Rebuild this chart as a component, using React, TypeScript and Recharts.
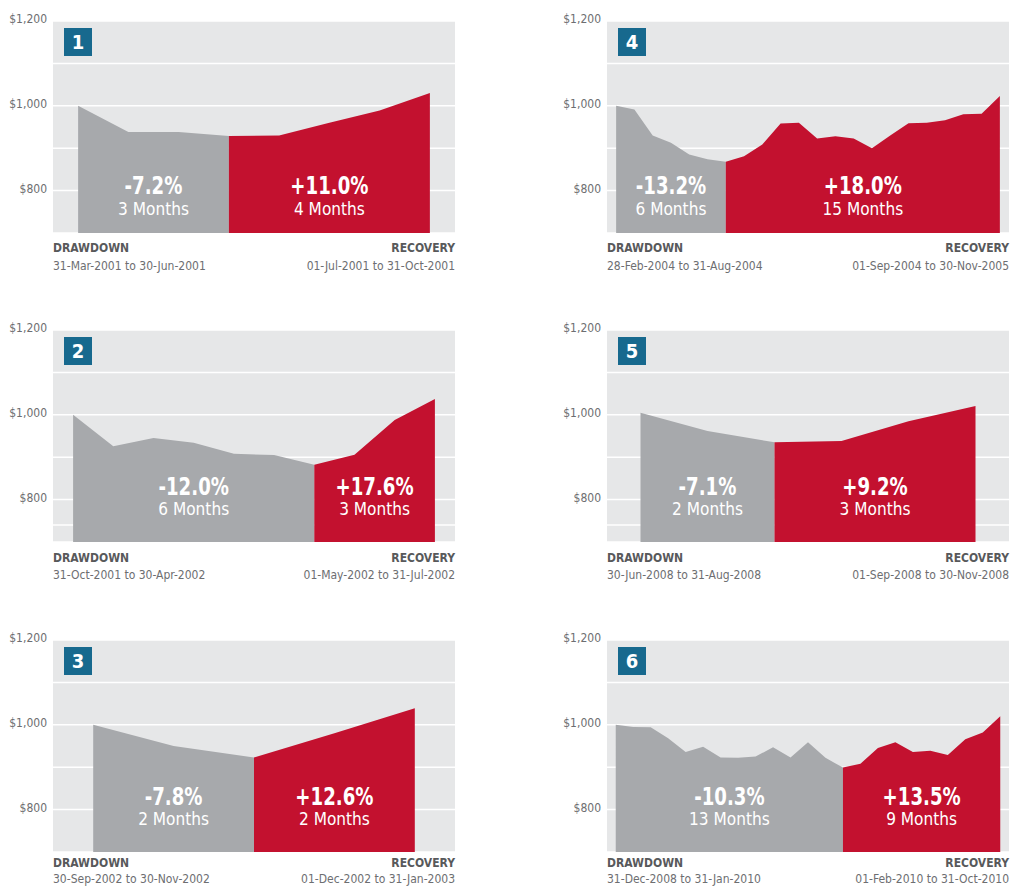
import React from "react";
import { AreaChart, Area, XAxis, YAxis, CartesianGrid, ReferenceDot } from "recharts";

const FONT = "'Liberation Sans Narrow', 'DejaVu Sans Condensed', Roboto, sans-serif";

// month-end portfolio values, one list per panel
const values1 = [1000, 938, 938, 929, 930, 960, 989, 1030];
const values2 = [1000, 926, 945, 934, 908, 905, 882, 906, 988, 1037];
const values3 = [1000, 950, 923, 980, 1039];
const values4 = [1000, 991, 930, 913, 885, 874, 868, 881, 909, 958, 960, 923, 928, 923, 900, 930, 959, 960, 966, 980, 981, 1023];
const values5 = [1005, 962, 935, 938, 985, 1021];
const values6 = [1000, 995, 994, 968, 936, 948, 923, 922, 925, 947, 923, 959, 922, 899, 908, 945, 959, 936, 939, 929, 966, 982, 1020];

const panelValues = [values1, values2, values3, values4, values5, values6];
const panelIds = ["1", "2", "3", "4", "5", "6"];
const drawdownMonths = [3, 6, 2, 6, 2, 13];
const recoveryMonths = [4, 3, 2, 15, 3, 9];
const drawdownPct = ["-7.2%", "-12.0%", "-7.8%", "-13.2%", "-7.1%", "-10.3%"];
const recoveryPct = ["+11.0%", "+17.6%", "+12.6%", "+18.0%", "+9.2%", "+13.5%"];
const drawdownDates = [
  "31-Mar-2001 to 30-Jun-2001",
  "31-Oct-2001 to 30-Apr-2002",
  "30-Sep-2002 to 30-Nov-2002",
  "28-Feb-2004 to 31-Aug-2004",
  "30-Jun-2008 to 31-Aug-2008",
  "31-Dec-2008 to 31-Jan-2010",
];
const recoveryDates = [
  "01-Jul-2001 to 31-Oct-2001",
  "01-May-2002 to 31-Jul-2002",
  "01-Dec-2002 to 31-Jan-2003",
  "01-Sep-2004 to 30-Nov-2005",
  "01-Sep-2008 to 30-Nov-2008",
  "01-Feb-2010 to 31-Oct-2010",
];

const yTicks = [700, 800, 900, 1000, 1100, 1200];
const yTicksExtra = [700, 740, 800, 900, 1000, 1100, 1200];
const yLabelled = [800, 1000, 1200];

const GRAY = "#a7a9ac";
const RED = "#c3112f";
const BG = "#e6e7e8";
const BADGE = "#17698e";

// layout
const colLeft = [0, 554];
const rowTop = [0, 309, 619];
const labelY = [812, 832, 832];
const footTitle = [248, 249, 244];
const footDate = [266, 266, 260];
const CHART_W = 460;
const CHART_H = 240;
const PLOT_L = 53;
const PLOT_R = 455;

const fmtDollar = (v: number) => {
  if (!yLabelled.includes(v)) return "";
  if (v >= 1000) return `$${Math.floor(v / 1000)},${String(v % 1000).padStart(3, "0")}`;
  return `$${v}`;
};

function PctLabel(props: any) {
  const { viewBox, pct, months } = props;
  const cx = viewBox.x;
  const cy = viewBox.y;
  return (
    <g fontFamily={FONT} fill="#fff" textAnchor="middle">
      <text transform={`translate(${cx},${cy}) scale(0.84,1)`} x={0} y={0} dominantBaseline="central" fontSize={24} fontWeight="bold">
        {pct}
      </text>
      <text transform={`translate(${cx},${cy + 23}) scale(0.95,1)`} x={0} y={0} dominantBaseline="central" fontSize={18}>
        {months}
      </text>
    </g>
  );
}

function Panel({ idx }: { idx: number }) {
  const vals = panelValues[idx];
  const split = drawdownMonths[idx];
  const n = vals.length;
  const rows = vals.map((v, i) => ({
    i,
    dd: i <= split ? v : null,
    rc: i >= split ? v : null,
  }));
  const col = idx < 3 ? 0 : 1;
  const row = idx % 3;
  const left = colLeft[col];
  const top = rowTop[row];
  const ticks = idx === 1 || idx === 4 ? yTicksExtra : yTicks;
  const ddMid = split / 2;
  const rcMid = (split + n - 1) / 2;

  return (
    <div style={{ position: "absolute", left, top, width: CHART_W, height: 270 }}>
      <AreaChart width={CHART_W} height={CHART_H} data={rows} margin={{ top: 21, right: CHART_W - PLOT_R, bottom: 7, left: 0 }}>
        <CartesianGrid vertical={false} stroke="#ffffff" strokeWidth={1.5} fill={BG} />
        <XAxis type="number" dataKey="i" domain={[-0.5, n - 0.5]} hide allowDataOverflow />
        <YAxis
          domain={[700, 1200]}
          ticks={ticks}
          interval={0}
          allowDataOverflow
          axisLine={false}
          tickLine={false}
          width={PLOT_L}
          tickMargin={0}
          tickFormatter={fmtDollar}
          tick={{ fill: "#6d6e71", fontSize: 12, fontFamily: FONT, dy: -2 }}
        />
        <Area type="linear" dataKey="dd" stroke="none" fill={GRAY} fillOpacity={1} isAnimationActive={false} activeDot={false} dot={false} />
        <Area type="linear" dataKey="rc" stroke="none" fill={RED} fillOpacity={1} isAnimationActive={false} activeDot={false} dot={false} />
        <ReferenceDot
          x={ddMid}
          y={labelY[row]}
          r={0}
          stroke="none"
          fill="none"
          label={(p: any) => <PctLabel {...p} pct={drawdownPct[idx]} months={`${drawdownMonths[idx]} Months`} />}
        />
        <ReferenceDot
          x={rcMid}
          y={labelY[row]}
          r={0}
          stroke="none"
          fill="none"
          label={(p: any) => <PctLabel {...p} pct={recoveryPct[idx]} months={`${recoveryMonths[idx]} Months`} />}
        />
      </AreaChart>
      <div
        style={{
          position: "absolute",
          left: PLOT_L + 11,
          top: 28,
          width: 28,
          height: 28,
          background: BADGE,
          color: "#fff",
          fontFamily: FONT,
          fontWeight: "bold",
          fontSize: 20,
          lineHeight: "28px",
          textAlign: "center",
        }}
      >
        {panelIds[idx]}
      </div>
      <div style={{ position: "absolute", left: PLOT_L, width: PLOT_R - PLOT_L, top: footTitle[row] - 8, fontFamily: FONT, fontSize: 12, lineHeight: "16px", color: "#58595b", fontWeight: "bold", display: "flex", justifyContent: "space-between" }}>
        <span>DRAWDOWN</span>
        <span>RECOVERY</span>
      </div>
      <div style={{ position: "absolute", left: PLOT_L, width: PLOT_R - PLOT_L, top: footDate[row] - 8, fontFamily: FONT, fontSize: 12, lineHeight: "16px", color: "#6d6e71", display: "flex", justifyContent: "space-between" }}>
        <span>{drawdownDates[idx]}</span>
        <span>{recoveryDates[idx]}</span>
      </div>
    </div>
  );
}

export default function App() {
  return (
    <div style={{ position: "absolute", left: 0, top: 0, width: 1011, height: 886, background: "#fff", overflow: "hidden" }}>
      {panelIds.map((_, idx) => (
        <Panel key={idx} idx={idx} />
      ))}
    </div>
  );
}
